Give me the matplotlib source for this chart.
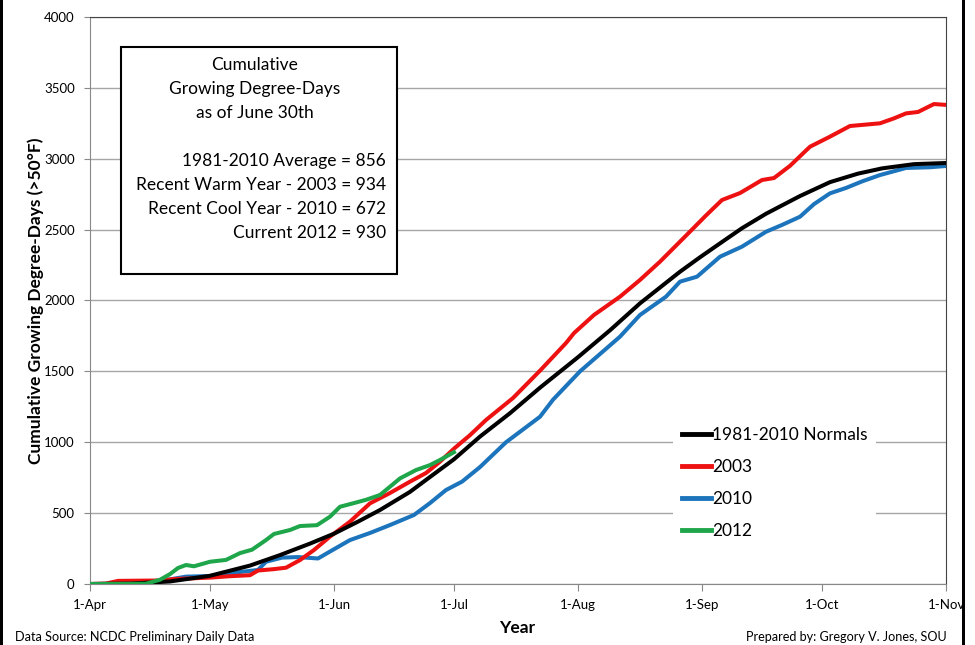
import numpy as np
import matplotlib
matplotlib.use("Agg")
import matplotlib.pyplot as plt
from matplotlib.patches import Rectangle

plt.rcParams['font.family'] = ['Lato', 'DejaVu Sans']

# === DATA (days after 1-Apr, cumulative GDD) ===
tick_days = [0, 30, 61, 91, 122, 153, 183, 214]
tick_labels = ['1-Apr', '1-May', '1-Jun', '1-Jul', '1-Aug', '1-Sep', '1-Oct', '1-Nov']

normal_days = [0, 10, 20, 30, 40, 47.5, 55, 61, 67, 72.5, 80, 85, 91, 97.5, 105,
               112.5, 122, 130, 137.5, 144, 147.5, 152.5, 157.5, 163, 169,
               177.5, 185, 192, 198, 206, 214]
normal_vals = [0, 3, 18, 58, 130, 204, 285, 355, 440, 522, 650, 755, 880, 1040,
               1205, 1385, 1600, 1790, 1980, 2125, 2203, 2305, 2403, 2510, 2612,
               2737, 2835, 2895, 2932, 2962, 2970]

red_days = [0, 4, 7, 18, 21, 30, 35, 40, 42, 46, 49, 52.5, 56, 60, 65, 70, 75,
            80, 84, 87.5, 91, 95, 99, 105.75, 112.5, 119, 121, 126, 132.5,
            137.5, 142.5, 150, 154, 158, 162.5, 168, 171, 175, 180, 185, 190,
            197.5, 201, 204, 207, 211, 214]
red_vals = [0, 3, 22, 25, 35, 45, 55, 62, 95, 105, 115, 169, 240, 334, 440, 569,
            642, 722, 783, 863, 955, 1050, 1157, 1312, 1505, 1700, 1770, 1898,
            2027, 2145, 2274, 2486, 2600, 2709, 2758, 2850, 2864, 2950, 3085,
            3156, 3231, 3250, 3285, 3320, 3330, 3386, 3380]

blue_days = [0, 14, 19, 24, 30, 36, 42, 44, 48, 52, 57, 59.5, 65, 70, 75, 81,
             85, 89, 93, 97.5, 104, 112.5, 115.75, 122.5, 132.5, 137.5, 144,
             147.5, 151.75, 157.5, 163, 169, 173, 177.5, 181, 185, 189, 193,
             197.5, 204, 210, 214]
blue_vals = [0, 0, 28, 52, 56, 80, 99, 157, 186, 190, 180, 221, 310, 360, 416,
             487, 571, 663, 722, 825, 1000, 1180, 1300, 1500, 1745, 1898, 2027,
             2133, 2168, 2309, 2380, 2485, 2533, 2591, 2680, 2756, 2794, 2840,
             2885, 2935, 2940, 2949]

green_days = [0, 14, 17.5, 20, 22, 24, 26, 30, 34, 37.5, 40.5, 44, 46, 50,
              52.5, 56.75, 60, 62.5, 66, 69, 72.5, 77.5, 81.5, 85, 87.5, 91]
green_vals = [0, 2, 30, 70, 113, 134, 125, 157, 170, 218, 242, 310, 353, 381,
              409, 415, 475, 545, 571, 594, 628, 745, 804, 839, 875, 930]

box_title = ['Cumulative', 'Growing Degree-Days', 'as of June 30th']
box_stats = ['1981-2010 Average = 856', 'Recent Warm Year - 2003 = 934',
             'Recent Cool Year - 2010 = 672', 'Current 2012 = 930']

# === FIGURE ===
W, H = 975, 645
fig = plt.figure(figsize=(W / 100, H / 100), dpi=100)

def fx(x):
    return x / W

def fy(y):
    return 1 - y / H

ax = fig.add_axes([fx(90), fy(584), fx(946) - fx(90), fy(17) - fy(584)])

lw = 2.9
ax.plot(normal_days, normal_vals, color='black', lw=lw, label='1981-2010 Normals', zorder=4)
ax.plot(red_days, red_vals, color='#ee1111', lw=lw, label='2003', zorder=3)
ax.plot(blue_days, blue_vals, color='#1c74bc', lw=lw, label='2010', zorder=2)
ax.plot(green_days, green_vals, color='#1fa64b', lw=lw, label='2012', zorder=5)

ax.set_xlim(0, 214)
ax.set_ylim(0, 4000)
ax.set_xticks(tick_days)
ax.set_xticklabels(tick_labels)
ax.set_yticks(np.arange(0, 4001, 500))
ax.yaxis.grid(True, color='#a6a6a6', lw=1.0)
ax.set_axisbelow(True)
ax.tick_params(axis='x', length=5, color='#888888', labelsize=9.5, pad=6)
ax.tick_params(axis='y', length=4, color='#888888', labelsize=9.5, pad=7)
for s in ['left', 'bottom']:
    ax.spines[s].set_color('#888888')
for s in ['top', 'right']:
    ax.spines[s].set_color('#444444')

ax.set_ylabel('Cumulative Growing Degree-Days (>50°F)', fontsize=12.5,
              fontweight='bold', labelpad=0)

leg = ax.legend(loc='lower left', bbox_to_anchor=(0.681, 0.064), fontsize=12.5,
                frameon=True, handlelength=1.67, handletextpad=0.08,
                labelspacing=0.92, borderpad=0.5, borderaxespad=0)
leg.get_frame().set_facecolor('white')
leg.get_frame().set_edgecolor('none')
leg.get_frame().set_alpha(1)
for h in leg.get_lines():
    h.set_linewidth(3.5)

# text box
fig.add_artist(Rectangle((fx(121), fy(274)), fx(397) - fx(121), fy(47) - fy(274),
                         transform=fig.transFigure, facecolor='white',
                         edgecolor='black', lw=1.5, zorder=10))
for i, t in enumerate(box_title):
    fig.text(fx(255), fy(65 + 24 * i), t, ha='center', va='center',
             fontsize=12.5, zorder=11)
for i, t in enumerate(box_stats):
    fig.text(fx(386), fy(161 + 24 * i), t, ha='right', va='center',
             fontsize=12.5, zorder=11)

fig.text(fx(517), fy(628), 'Year', ha='center', va='center', fontsize=12.5,
         fontweight='bold')
fig.text(fx(15), fy(637), 'Data Source: NCDC Preliminary Daily Data', ha='left',
         va='center', fontsize=9.1)
fig.text(fx(947), fy(637), 'Prepared by: Gregory V. Jones, SOU', ha='right',
         va='center', fontsize=9.1)

# black frame edges
fig.add_artist(Rectangle((0, 0), fx(3), 1, transform=fig.transFigure,
                         facecolor='black', edgecolor='none'))
fig.add_artist(Rectangle((fx(962), 0), fx(3), 1, transform=fig.transFigure,
                         facecolor='black', edgecolor='none'))

fig.savefig('out.png', dpi=100)
